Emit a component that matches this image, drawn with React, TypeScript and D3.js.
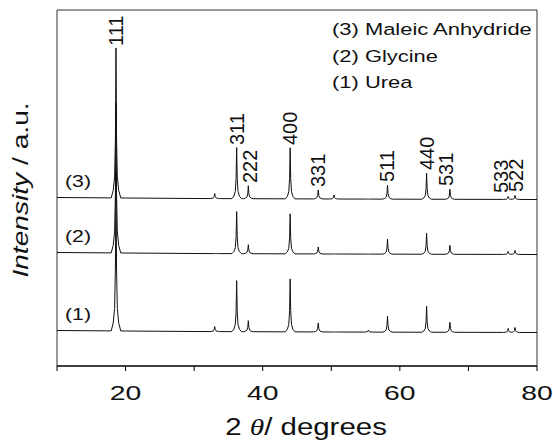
import React from "react";
import { scaleLinear, line, sum } from "d3";

const width = 553;
const height = 444;
const margin = { left: 57, right: 16, top: 10, bottom: 78 };

// 2θ of every reflection seen in the patterns
const peakPositions = [18.6, 33.0, 36.2, 37.9, 44.0, 48.1, 50.4, 55.4, 58.2, 63.9, 67.3, 75.8, 76.8];
// peak heights (a.u.) per sample, same order as peakPositions
const ureaHeights = [160, 5, 51, 11, 53, 9, 0, 2, 16, 26, 10, 4, 5];
const glycineHeights = [150, 0, 42, 9, 40, 7, 0, 0, 15, 21, 9, 3, 4];
const maleicHeights = [150, 5, 51, 13, 51, 9, 4, 0, 14, 26, 10, 3, 4];
const sampleNames = ["(1)", "(2)", "(3)"];
const legendNames = ["(3) Maleic Anhydride", "(2) Glycine", "(1) Urea"];
const baselineLevels = [34, 112, 167];
const driftX = [10, 20, 30, 50, 80];
const driftY = [1.5, 1, 0.5, 0, -0.5];

const hklLabels = ["111", "311", "222", "400", "331", "511", "440", "531", "533", "522"];
const hklPositions = [18.6, 36.2, 38.1, 43.9, 48.1, 58.1, 63.9, 66.7, 74.7, 76.9];
const hklPeak = [0, 2, 3, 4, 5, 8, 9, 10, 11, 12];

const xTicks = [10, 20, 30, 40, 50, 60, 70, 80];

const font = "'Liberation Sans', Arial, sans-serif";

// line shape of one reflection, offset in degrees -> fraction of height
const profile = scaleLinear()
  .domain([-0.7, -0.4, -0.2, -0.08, 0, 0.08, 0.2, 0.4, 0.7])
  .range([0, 0.05, 0.14, 0.4, 1, 0.4, 0.14, 0.05, 0])
  .clamp(true);
const drift = scaleLinear().domain(driftX).range(driftY);

const App = () => {
  const x = scaleLinear().domain([10, 80]).range([margin.left, width - margin.right]);
  const y = scaleLinear().domain([0, 356]).range([height - margin.bottom, margin.top]);

  const samples = Array.from(
    new Set([
      ...driftX,
      ...peakPositions.flatMap((p) => profile.domain().map((o) => +(p + o).toFixed(3))),
    ])
  ).sort((a, b) => a - b);

  const series = [ureaHeights, glycineHeights, maleicHeights].map((hs, k) =>
    samples.map((t) => [
      t,
      baselineLevels[k] + drift(t) + sum(peakPositions, (p, i) => hs[i] * profile(t - p)),
    ])
  );

  const path = line<number[]>()
    .x((d) => x(d[0]))
    .y((d) => y(d[1]));

  const x0 = margin.left;
  const x1 = width - margin.right;
  const y0 = height - margin.bottom;
  const y1 = margin.top;

  return (
    <svg
      width={width}
      height={height}
      style={{ position: "absolute", left: 0, top: 0, background: "#fff" }}
      fontFamily={font}
    >
      <rect x={0} y={0} width={width} height={height} fill="#fff" />
      <line x1={x0} x2={x1} y1={y1} y2={y1} stroke="#333" strokeWidth={1} />
      <line x1={x0} x2={x0} y1={y1} y2={y0} stroke="#333" strokeWidth={1} />
      <line x1={x1} x2={x1} y1={y1} y2={y0} stroke="#333" strokeWidth={1} />
      <line x1={x0} x2={x1} y1={y0} y2={y0} stroke="#000" strokeWidth={1.5} />

      {xTicks.map((t) => (
        <g key={t}>
          <line x1={x(t)} x2={x(t)} y1={y0} y2={y0 + 5} stroke="#000" strokeWidth={1} />
          {t % 20 === 0 && (
            <text
              transform={`translate(${x(t)},${y0 + 34}) scale(1.35,1)`}
              textAnchor="middle"
              fontSize={21}
              fill="#111"
            >
              {t}
            </text>
          )}
        </g>
      ))}

      {series.map((s, k) => (
        <path key={k} d={path(s) || ""} fill="none" stroke="#111" strokeWidth={1} />
      ))}

      {sampleNames.map((n, k) => (
        <text
          key={n}
          transform={`translate(${x0 + 8},${y(baselineLevels[k]) - 12}) scale(1.25,1)`}
          fontSize={17}
          fill="#111"
        >
          {n}
        </text>
      ))}

      {hklLabels.map((h, i) => {
        const p = hklPeak[i];
        const top = baselineLevels[2] + maleicHeights[p];
        return (
          <text
            key={h}
            transform={`translate(${x(hklPositions[i])},${y(top) - 3}) rotate(-90)`}
            dy="0.36em"
            fontSize={20}
            fill="#111"
          >
            {h}
          </text>
        );
      })}

      {legendNames.map((n, k) => (
        <text
          key={n}
          transform={`translate(332,${35 + k * 26.5}) scale(1.29,1)`}
          fontSize={17}
          fill="#111"
        >
          {n}
        </text>
      ))}

      <text
        transform={`translate(${(x0 + x1) / 2 + 9},435) scale(1.28,1)`}
        textAnchor="middle"
        fontSize={23}
        fill="#111"
      >
        2 <tspan fontStyle="italic" fontFamily="'Liberation Serif', serif">θ</tspan>/ degrees
      </text>

      <text
        transform="translate(28,190) rotate(-90) scale(1.28,1)"
        textAnchor="middle"
        fontSize={22}
        fill="#111"
      >
        <tspan fontStyle="italic">Intensity</tspan> / a.u.
      </text>
    </svg>
  );
};

export default App;
